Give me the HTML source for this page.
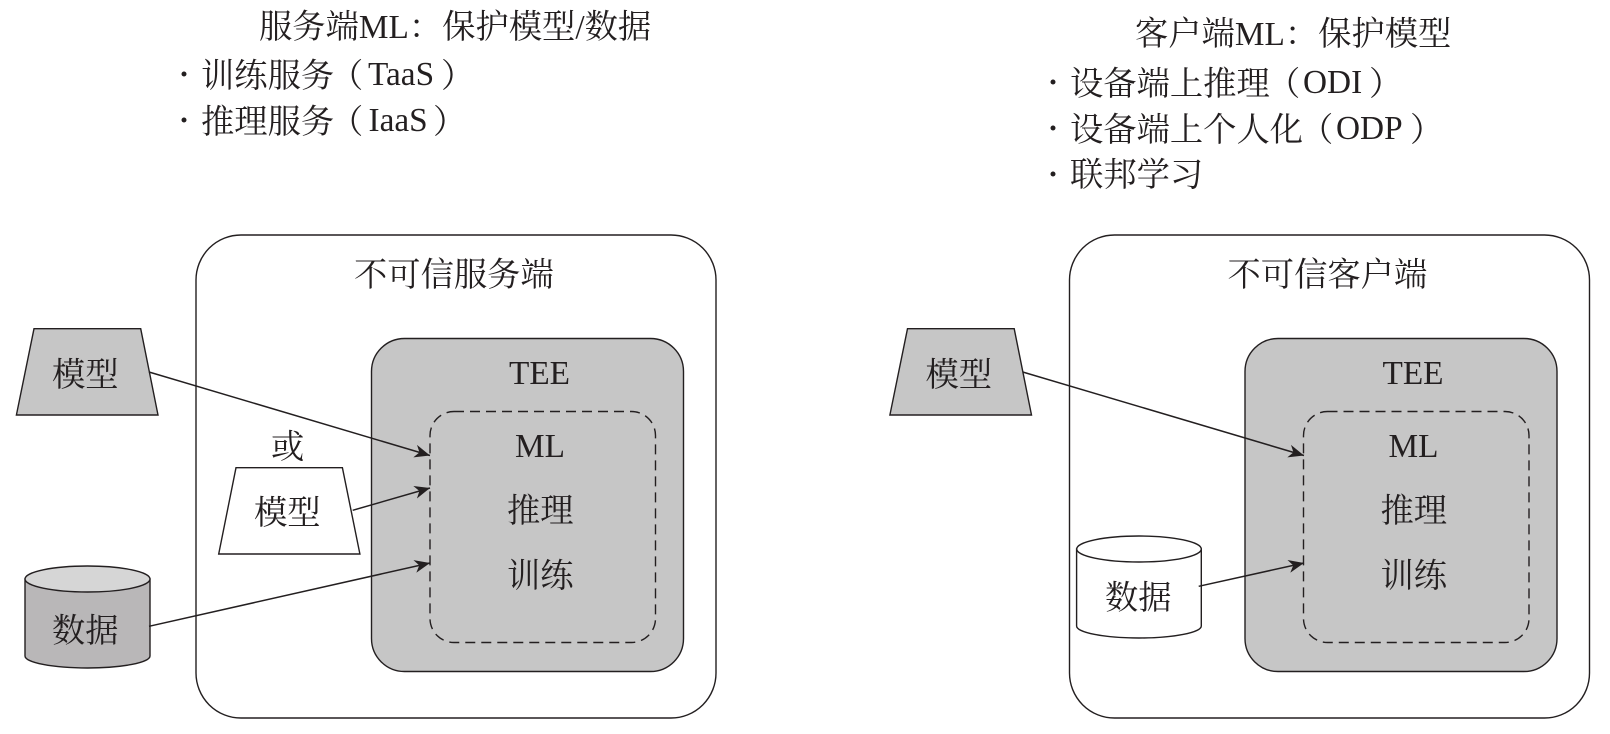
<!DOCTYPE html>
<html lang="zh">
<head>
<meta charset="utf-8">
<title>TEE diagram</title>
<style>
html,body{margin:0;padding:0;background:#fff;width:1610px;height:734px;overflow:hidden}
svg{display:block}
text{font-family:"Liberation Serif","Noto Serif CJK SC",serif;font-size:33.3px;fill:#231f20}
.s{fill:none;stroke:#231f20;stroke-width:1.4}
.l{fill:none;stroke:#231f20;stroke-width:1.5}
.d{fill:none;stroke:#231f20;stroke-width:1.4;stroke-dasharray:10 6}
</style>
</head>
<body>
<svg width="1610" height="734" viewBox="0 0 1610 734" xmlns="http://www.w3.org/2000/svg">
<defs>
<marker id="a" markerUnits="userSpaceOnUse" markerWidth="18" markerHeight="16" viewBox="0 -8 18 16" refX="15.500" refY="0" orient="auto">
<path d="M0,-6.500 L15.500,0 L0,6.500 L4.500,0 Z" fill="#231f20"/>
</marker>
</defs>
<rect width="1610" height="734" fill="#fff"/>

<!-- left headings -->
<text x="259" y="38">服务端ML：保护模型/数据</text>
<circle cx="184" cy="74" r="2.500" fill="#231f20"/>
<text><tspan x="201" y="87">训练服务</tspan><tspan x="330" y="87">（</tspan><tspan x="368" y="85">TaaS</tspan><tspan x="441" y="87">）</tspan></text>
<circle cx="184" cy="120" r="2.500" fill="#231f20"/>
<text><tspan x="201" y="133">推理服务</tspan><tspan x="330" y="133">（</tspan><tspan x="368.500" y="131">IaaS</tspan><tspan x="433" y="133">）</tspan></text>

<!-- right headings -->
<text x="1135" y="45">客户端ML：保护模型</text>
<circle cx="1053" cy="82" r="2.500" fill="#231f20"/>
<text><tspan x="1070" y="95">设备端上推理</tspan><tspan x="1267" y="95">（</tspan><tspan x="1303" y="93">ODI</tspan><tspan x="1369" y="95">）</tspan></text>
<circle cx="1053" cy="128" r="2.500" fill="#231f20"/>
<text><tspan x="1070" y="141">设备端上个人化</tspan><tspan x="1300" y="141">（</tspan><tspan x="1336" y="139">ODP</tspan><tspan x="1410" y="141">）</tspan></text>
<circle cx="1053" cy="174" r="2.500" fill="#231f20"/>
<text x="1070" y="186">联邦学习</text>

<!-- left diagram -->
<rect x="196" y="235" width="520" height="483" rx="45" ry="45" style="fill:#fff;stroke:#231f20;stroke-width:1.4"/>
<text x="354" y="286">不可信服务端</text>
<rect x="371.500" y="338.500" width="312" height="333" rx="33" ry="33" style="fill:#c6c6c6;stroke:#231f20;stroke-width:1.4"/>
<text x="509" y="384">TEE</text>
<rect x="430" y="411.500" width="225.500" height="231" rx="24" ry="24" class="d"/>
<text x="515" y="457">ML</text>
<text x="507" y="522">推理</text>
<text x="507" y="587">训练</text>

<polygon points="34,328.700 140.700,328.700 158,415 16.400,415" style="fill:#c6c6c6;stroke:#231f20;stroke-width:1.4"/>
<text x="52" y="386">模型</text>
<text x="271" y="458">或</text>
<polygon points="236,467.700 342.400,467.700 359.900,554 218.700,554" style="fill:#fff;stroke:#231f20;stroke-width:1.4"/>
<text x="254" y="524">模型</text>

<path d="M25,579 V656 A62.500,12 0 0 0 150,656 V579 Z" style="fill:#b9b7b8;stroke:#231f20;stroke-width:1.4"/>
<ellipse cx="87.500" cy="579" rx="62.500" ry="13" style="fill:#d6d6d6;stroke:#231f20;stroke-width:1.4"/>
<text x="52" y="642">数据</text>

<line x1="149" y1="372" x2="430" y2="455.500" class="l" marker-end="url(#a)"/>
<line x1="352.700" y1="510.300" x2="430" y2="488" class="l" marker-end="url(#a)"/>
<line x1="149" y1="626.300" x2="430" y2="563" class="l" marker-end="url(#a)"/>

<!-- right diagram -->
<rect x="1069.500" y="235" width="520" height="483" rx="45" ry="45" style="fill:#fff;stroke:#231f20;stroke-width:1.4"/>
<text x="1227.500" y="286">不可信客户端</text>
<rect x="1245" y="338.500" width="312" height="333" rx="33" ry="33" style="fill:#c6c6c6;stroke:#231f20;stroke-width:1.4"/>
<text x="1382.500" y="384">TEE</text>
<rect x="1303.500" y="411.500" width="225.500" height="231" rx="24" ry="24" class="d"/>
<text x="1388.500" y="457">ML</text>
<text x="1380.500" y="522">推理</text>
<text x="1380.500" y="587">训练</text>

<polygon points="907.500,328.700 1014.200,328.700 1031.500,415 889.900,415" style="fill:#c6c6c6;stroke:#231f20;stroke-width:1.4"/>
<text x="925.500" y="386">模型</text>

<path d="M1076.600,549 V626 A62.300,12 0 0 0 1201.300,626 V549 Z" style="fill:#fff;stroke:#231f20;stroke-width:1.4"/>
<ellipse cx="1139" cy="549" rx="62.300" ry="13" style="fill:#fff;stroke:#231f20;stroke-width:1.4"/>
<text x="1105" y="609">数据</text>

<line x1="1022.700" y1="372" x2="1304" y2="455.500" class="l" marker-end="url(#a)"/>
<line x1="1198.700" y1="586.300" x2="1304" y2="563" class="l" marker-end="url(#a)"/>
</svg>
</body>
</html>
